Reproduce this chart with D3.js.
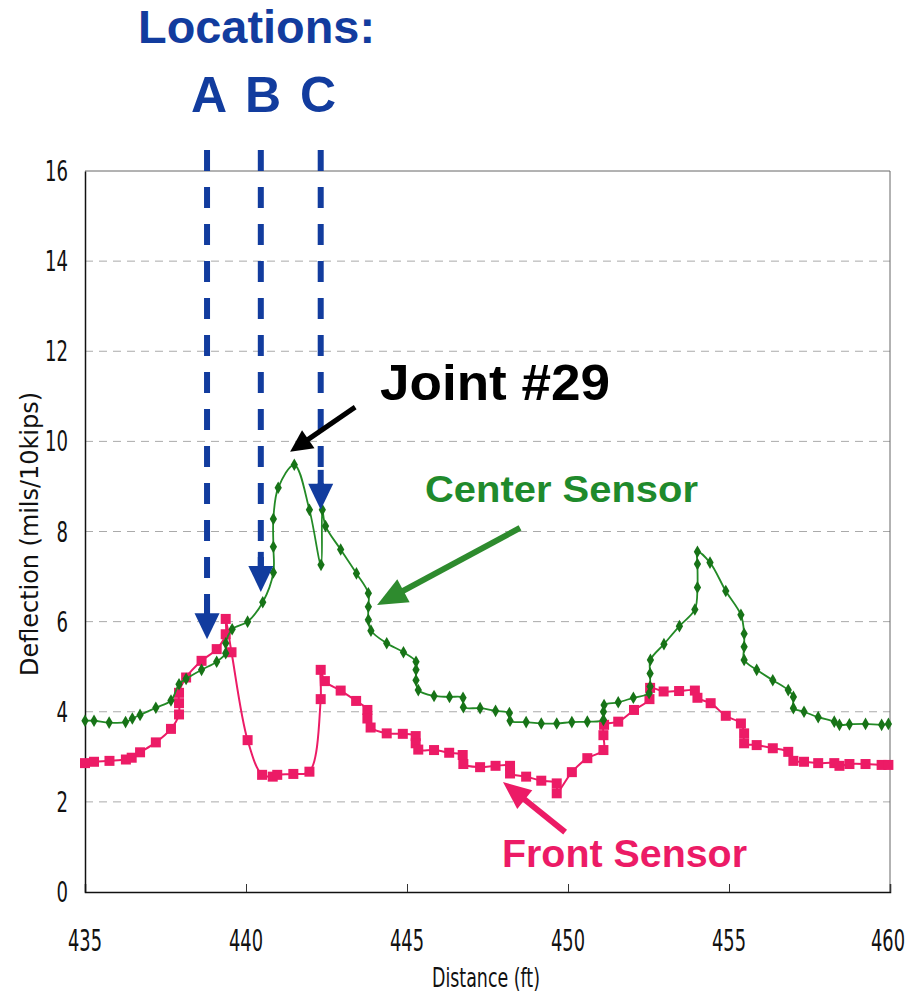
<!DOCTYPE html>
<html>
<head>
<meta charset="utf-8">
<script src="https://cdn.jsdelivr.net/npm/d3@7"></script>
<style>
  html, body { margin: 0; padding: 0; background: #fff; }
  svg { display: block; }
</style>
</head>
<body>
<svg id="chart" width="921" height="995"></svg>
<script>
// ---------- DATA ----------
const centerX = [435.00,435.28,435.75,436.26,436.47,436.71,437.20,437.67,437.92,438.14,438.62,439.09,439.37,439.37,439.57,440.05,440.52,440.85,440.85,440.85,441.00,441.50,441.97,442.33,442.37,442.47,442.94,443.43,443.80,443.80,443.80,443.88,444.37,444.89,445.28,445.28,445.28,445.35,445.84,446.32,446.74,446.75,447.27,447.75,448.18,448.20,448.70,449.17,449.65,450.12,450.60,451.10,451.10,451.12,451.56,452.03,452.52,452.55,452.55,452.56,452.98,453.46,453.94,454.02,454.02,454.02,454.41,454.90,455.37,455.47,455.47,455.47,455.86,456.36,456.84,457.00,457.00,457.33,457.77,458.27,458.43,458.74,459.24,459.74,459.95];
const centerY = [3.80,3.80,3.76,3.77,3.85,3.93,4.09,4.25,4.61,4.73,4.93,5.11,5.30,5.52,5.83,6.00,6.43,7.09,7.66,8.28,8.97,9.48,8.48,7.26,8.48,8.12,7.60,7.07,6.63,6.33,6.04,5.80,5.52,5.32,5.11,4.93,4.70,4.48,4.35,4.33,4.31,4.10,4.08,4.02,3.97,3.80,3.77,3.74,3.74,3.77,3.78,3.82,4.00,4.15,4.21,4.31,4.41,4.56,4.85,5.15,5.50,5.90,6.27,6.76,7.28,7.55,7.31,6.68,6.15,5.73,5.44,5.15,4.93,4.70,4.48,4.33,4.08,4.00,3.88,3.78,3.71,3.72,3.73,3.71,3.73];

const frontX = [435.00,435.28,435.76,436.27,436.45,436.71,437.20,437.67,437.92,437.92,437.92,438.14,438.62,439.09,439.37,439.37,439.55,440.05,440.50,440.83,440.97,441.47,441.97,442.32,442.32,442.45,442.94,443.42,443.77,443.77,443.87,444.37,444.87,445.27,445.27,445.35,445.84,446.31,446.73,446.75,447.27,447.75,448.20,448.20,448.70,449.17,449.65,449.65,450.12,450.60,451.10,451.10,451.12,451.56,452.05,452.53,452.55,452.97,453.45,453.94,454.02,454.43,454.90,455.37,455.47,455.47,455.86,456.36,456.84,457.00,457.33,457.77,458.27,458.43,458.74,459.24,459.74,459.95];
const frontY = [2.86,2.89,2.91,2.94,2.98,3.10,3.32,3.62,3.94,4.19,4.42,4.76,5.13,5.39,5.72,6.06,5.32,3.37,2.60,2.56,2.60,2.62,2.67,4.28,4.93,4.68,4.47,4.24,4.04,3.85,3.65,3.52,3.51,3.46,3.30,3.16,3.15,3.09,3.04,2.84,2.77,2.80,2.80,2.63,2.56,2.47,2.41,2.19,2.66,2.97,3.15,3.48,3.71,3.78,4.04,4.28,4.53,4.45,4.46,4.47,4.31,4.19,3.91,3.74,3.52,3.30,3.26,3.19,3.11,2.91,2.89,2.86,2.86,2.80,2.84,2.84,2.82,2.82];

const xTicks = [435, 440, 445, 450, 455, 460];
const yTicks = [0, 2, 4, 6, 8, 10, 12, 14, 16];

// Location markers (A, B, C): x position and arrow tip value
const locNames = ["A", "B", "C"];
const locX = [438.79, 440.46, 442.32];
const locTip = [5.61, 6.66, 8.48];

// Callout arrows: [fromX, fromY, toX, toY] in data units
const jointArrow = [443.39, 10.76, 441.37, 9.77];
const centerArrow = [448.51, 8.08, 444.07, 6.37];
const frontArrow = [449.91, 1.33, 447.98, 2.44];

// ---------- LAYOUT ----------
const svg = d3.select("#chart");
const L = 85, R = 890, T = 171, B = 892;
const x = d3.scaleLinear().domain([435, 460]).range([L, R]);
const y = d3.scaleLinear().domain([0, 16]).range([B, T]);

const BLUE = "#123c9e", GREEN = "#238a26", GREEN_D = "#177317", PINK = "#ec1b66";
const NARROW = "'Liberation Sans Narrow', 'DejaVu Sans Condensed', 'Liberation Sans', Arial, sans-serif";
const BOLD = "'Liberation Sans', Arial, sans-serif";

// gridlines
svg.append("g").selectAll("line").data(yTicks.filter(d => d > 0 && d < 16)).join("line")
  .attr("x1", L).attr("x2", R).attr("y1", d => y(d)).attr("y2", d => y(d))
  .attr("stroke", "#aaaaaa").attr("stroke-width", 1).attr("stroke-dasharray", "8,6");

// frame
svg.append("line").attr("x1", L).attr("x2", R).attr("y1", T).attr("y2", T).attr("stroke", "#666").attr("stroke-width", 1);
svg.append("line").attr("x1", R).attr("x2", R).attr("y1", T).attr("y2", B).attr("stroke", "#666").attr("stroke-width", 1);

// axes via d3
const xAxis = svg.append("g").attr("transform", `translate(0,${B})`)
  .call(d3.axisTop(x).tickValues(xTicks).tickSize(8).tickFormat(""));
xAxis.select(".domain").attr("stroke", "#111").attr("stroke-width", 1.5);
xAxis.selectAll(".tick line").attr("stroke", "#333");
const yAxis = svg.append("g").attr("transform", `translate(${L},0)`)
  .call(d3.axisLeft(y).tickValues(yTicks).tickSize(0).tickFormat(""));
yAxis.select(".domain").attr("stroke", "#111").attr("stroke-width", 1.5);

// tick labels
svg.append("g").selectAll("g").data(xTicks).join("g")
  .attr("transform", d => `translate(${x(d) + (d === 460 ? -2 : 0)},951) scale(1,1.15)`)
  .append("text")
  .attr("text-anchor", "middle")
  .attr("font-family", NARROW).attr("font-size", 26)
  .attr("textLength", 34).attr("lengthAdjust", "spacingAndGlyphs")
  .attr("fill", "#111").text(d => d);

svg.append("g").selectAll("text").data(yTicks).join("text")
  .attr("x", 68).attr("y", d => y(d) + 10)
  .attr("text-anchor", "end")
  .attr("font-family", NARROW).attr("font-size", 28)
  .attr("textLength", d => String(d).length * 11.5).attr("lengthAdjust", "spacingAndGlyphs")
  .attr("fill", "#111").text(d => d);

// axis titles
svg.append("text")
  .attr("transform", "translate(38,534) rotate(-90)")
  .attr("text-anchor", "middle")
  .attr("font-family", NARROW).attr("font-size", 24)
  .attr("textLength", 284).attr("lengthAdjust", "spacingAndGlyphs")
  .attr("fill", "#111").text("Deflection (mils/10kips)");

svg.append("text")
  .attr("x", 486).attr("y", 987)
  .attr("text-anchor", "middle")
  .attr("font-family", NARROW).attr("font-size", 26)
  .attr("textLength", 108).attr("lengthAdjust", "spacingAndGlyphs")
  .attr("fill", "#111").text("Distance (ft)");

// ---------- SERIES ----------
const centerData = centerX.map((v, i) => [v, centerY[i]]);
const frontData = frontX.map((v, i) => [v, frontY[i]]);
const line = d3.line().x(d => x(d[0])).y(d => y(d[1])).curve(d3.curveCatmullRom.alpha(0.5));

svg.append("path").datum(frontData).attr("d", line)
  .attr("fill", "none").attr("stroke", PINK).attr("stroke-width", 2);
svg.append("g").selectAll("rect").data(frontData).join("rect")
  .attr("x", d => x(d[0]) - 5).attr("y", d => y(d[1]) - 5)
  .attr("width", 10).attr("height", 10).attr("fill", PINK);

svg.append("path").datum(centerData).attr("d", line)
  .attr("fill", "none").attr("stroke", GREEN).attr("stroke-width", 1.8);
svg.append("g").selectAll("path").data(centerData).join("path")
  .attr("d", d3.symbol().type(d3.symbolDiamond).size(46))
  .attr("transform", d => `translate(${x(d[0])},${y(d[1])})`)
  .attr("fill", GREEN_D);

// ---------- ANNOTATIONS ----------
function arrow(a, color, width, headLen, headW) {
  const x1 = x(a[0]), y1 = y(a[1]), x2 = x(a[2]), y2 = y(a[3]);
  const ang = Math.atan2(y2 - y1, x2 - x1);
  const bx = x2 - headLen * Math.cos(ang), by = y2 - headLen * Math.sin(ang);
  svg.append("line").attr("x1", x1).attr("y1", y1).attr("x2", bx + Math.cos(ang)).attr("y2", by + Math.sin(ang))
    .attr("stroke", color).attr("stroke-width", width);
  const px = -Math.sin(ang) * headW / 2, py = Math.cos(ang) * headW / 2;
  svg.append("path").attr("d", `M${x2},${y2}L${bx + px},${by + py}L${bx - px},${by - py}Z`).attr("fill", color);
}

// blue dashed location arrows
locX.forEach((lx, i) => {
  const cx = x(lx), tip = y(locTip[i]), headTop = tip - 26;
  svg.append("line").attr("x1", cx).attr("x2", cx).attr("y1", 150).attr("y2", headTop + 1)
    .attr("stroke", BLUE).attr("stroke-width", 6).attr("stroke-dasharray", "21,16");
  svg.append("line").attr("x1", cx).attr("x2", cx).attr("y1", headTop - 14).attr("y2", headTop + 1)
    .attr("stroke", BLUE).attr("stroke-width", 6);
  svg.append("path").attr("d", `M${cx - 12.5},${headTop}L${cx + 12.5},${headTop}L${cx},${tip}Z`).attr("fill", BLUE);
});

svg.append("text").attr("x", 138).attr("y", 43)
  .attr("font-family", BOLD).attr("font-weight", "bold").attr("font-size", 47)
  .attr("textLength", 237).attr("lengthAdjust", "spacingAndGlyphs")
  .attr("fill", BLUE).text("Locations:");
svg.append("g").selectAll("text").data(locNames).join("text")
  .attr("x", (d, i) => [209, 263, 318][i]).attr("y", 112)
  .attr("text-anchor", "middle")
  .attr("font-family", BOLD).attr("font-weight", "bold").attr("font-size", 50)
  .attr("fill", BLUE).text(d => d);

arrow(jointArrow, "#000", 5, 22, 22);
svg.append("text").attr("x", 380).attr("y", 400)
  .attr("font-family", BOLD).attr("font-weight", "bold").attr("font-size", 50)
  .attr("textLength", 230).attr("lengthAdjust", "spacingAndGlyphs")
  .attr("fill", "#000").text("Joint #29");

arrow(centerArrow, "#2e8b2e", 6, 30, 26);
svg.append("text").attr("x", 425).attr("y", 502)
  .attr("font-family", BOLD).attr("font-weight", "bold").attr("font-size", 37)
  .attr("textLength", 273).attr("lengthAdjust", "spacingAndGlyphs")
  .attr("fill", "#1f8a2c").text("Center Sensor");

arrow(frontArrow, PINK, 6, 28, 24);
svg.append("text").attr("x", 502).attr("y", 867)
  .attr("font-family", BOLD).attr("font-weight", "bold").attr("font-size", 38)
  .attr("textLength", 245).attr("lengthAdjust", "spacingAndGlyphs")
  .attr("fill", PINK).text("Front Sensor");
</script>
</body>
</html>
